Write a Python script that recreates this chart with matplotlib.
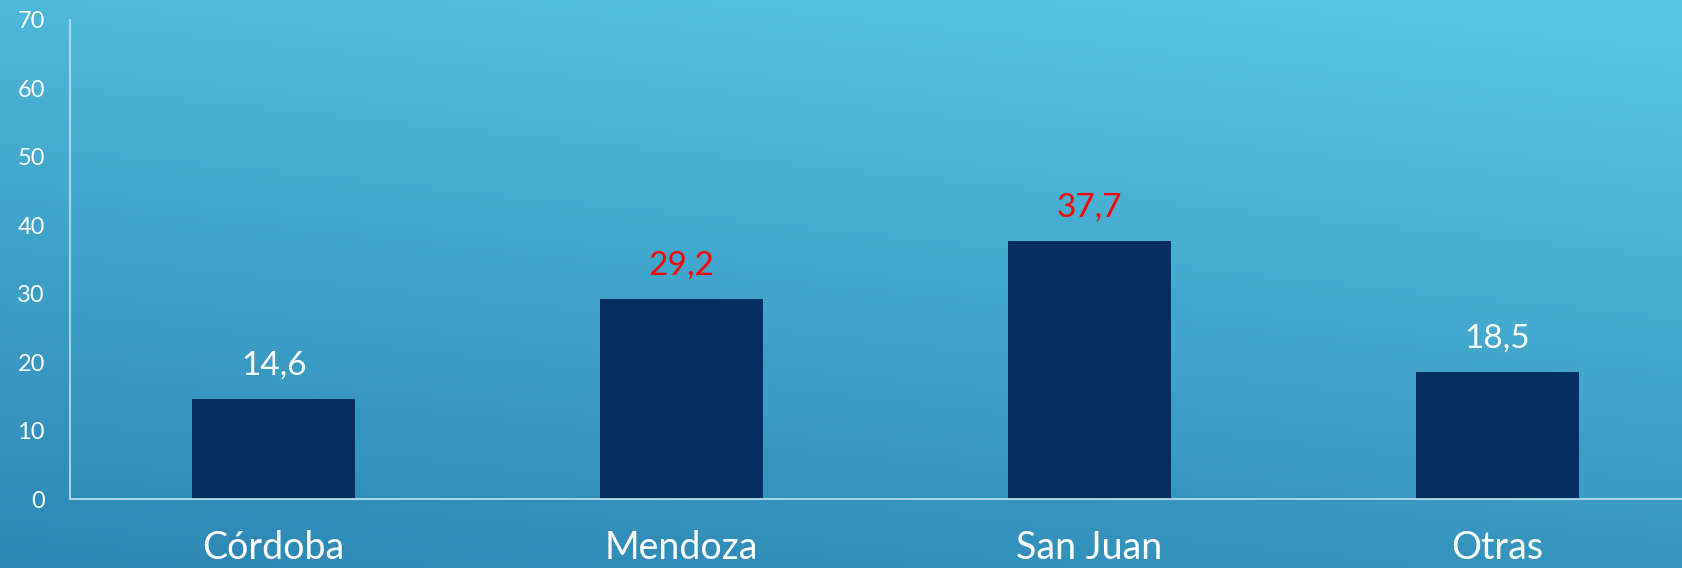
import matplotlib
matplotlib.use("Agg")
from matplotlib import pyplot as plt
import numpy as np

categories = ["Córdoba", "Mendoza", "San Juan", "Otras"]
values = [14.6, 29.2, 37.7, 18.5]
value_labels = ["14,6", "29,2", "37,7", "18,5"]
label_colors = ["white", "red", "red", "white"]
yticks = [0, 10, 20, 30, 40, 50, 60, 70]

plt.rcParams["font.family"] = ["Lato", "DejaVu Sans"]

W, H = 1683, 568
fig = plt.figure(figsize=(W/100, H/100), dpi=100)

# background gradient (light top-right, darker bottom-left)
bg = fig.add_axes([0, 0, 1, 1])
bg.set_axis_off()
yy, xx = np.mgrid[0:1:200j, 0:1:400j]
t = np.clip(0.8*(1-yy) + 0.25*xx, 0, 1)  # 1 at top-right
c_dark = np.array([0x2c, 0x86, 0xb3]) / 255
c_light = np.array([0x57, 0xc5, 0xe4]) / 255
img = c_dark[None, None, :]*(1-t[..., None]) + c_light[None, None, :]*t[..., None]
bg.imshow(img, aspect="auto", extent=[0, 1, 0, 1], origin="upper")

left = 70/W
bottom = (H-499)/H
ax = fig.add_axes([left, bottom, 1631/W, 479/H])
ax.patch.set_alpha(0)

x = np.arange(len(categories))
ax.bar(x, values, width=0.4, color="#052f5f", zorder=2)

for i, v in enumerate(values):
    ax.text(x[i], v + 2.7, value_labels[i], ha="center", va="bottom",
            color=label_colors[i], fontsize=24)

ax.set_xlim(-0.5, 3.5)
ax.set_ylim(0, 70)
ax.set_yticks(yticks)
ax.set_xticks(x)
ax.set_xticklabels(categories, fontsize=27, color="white")
ax.tick_params(axis="y", labelsize=17, labelcolor="white", length=0, pad=18)
ax.tick_params(axis="x", length=0, pad=22)

for s in ["top", "right"]:
    ax.spines[s].set_visible(False)
for s in ["left", "bottom"]:
    ax.spines[s].set_color("#b5dcec")
    ax.spines[s].set_linewidth(1.3)

fig.savefig("out.png", dpi=100)
